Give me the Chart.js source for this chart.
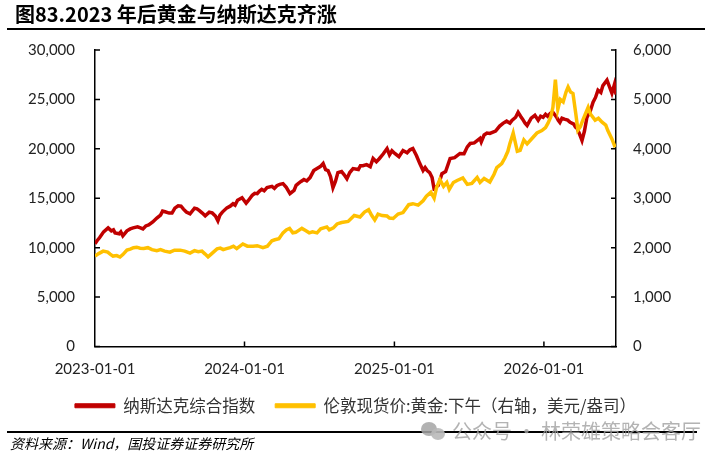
<!DOCTYPE html>
<html>
<head>
<meta charset="utf-8">
<script src="https://cdn.jsdelivr.net/npm/chart.js@4.4.1/dist/chart.umd.min.js"></script>
<style>
  body { margin: 0; background: #fff; }
  #wrap { position: relative; width: 711px; height: 459px; overflow: hidden; }
  #c { position: absolute; left: 0; top: 0; }
  .title { position: absolute; left: 15px; top: 0px; font: 700 20px "Noto Sans CJK SC", sans-serif; line-height: 28px; color: #000; white-space: nowrap; }
  .rule { position: absolute; background: #000; }
  .source { position: absolute; left: 10px; top: 433px; font: italic 14px "Noto Sans CJK SC", sans-serif; line-height: 20px; color: #000; white-space: nowrap; }
  .mark { position: absolute; left: 452px; top: 417px; font: 20px "Noto Sans CJK SC", sans-serif; line-height: 28px; color: rgba(160,160,160,0.8); white-space: nowrap; }
  .bub { position: absolute; border-radius: 50%; background: rgba(165,165,165,0.85); }
</style>
</head>
<body>
<div id="wrap">
  <canvas id="c" width="711" height="459"></canvas>
  <div class="title">图83.2023 年后黄金与纳斯达克齐涨</div>
  <div class="rule" style="left:7px; top:28px; width:698px; height:2px;"></div>
  <div class="rule" style="left:7px; top:431px; width:690px; height:1.5px;"></div>
  <div class="source">资料来源：Wind，国投证券证券研究所</div>
  <div class="bub" style="left:421px; top:422px; width:16px; height:14px;"></div>
  <div class="bub" style="left:431px; top:428px; width:14px; height:12px; background:rgba(185,185,185,0.9);"></div>
  <div class="mark">公众号 · 林荣雄策略会客厅</div>
</div>
<script>
// x-axis tick labels
const xLabels = ['2023-01-01', '2024-01-01', '2025-01-01', '2026-01-01'];

// 纳斯达克综合指数 (left axis)
const nasdaqDates = [
  '2023-01-01','2023-01-06','2023-01-12','2023-01-22','2023-02-02','2023-02-10','2023-02-15','2023-02-19',
  '2023-03-01','2023-03-05','2023-03-10','2023-03-20','2023-03-28','2023-04-04','2023-04-15','2023-04-22',
  '2023-04-28','2023-05-05','2023-05-12','2023-05-22','2023-06-01','2023-06-10','2023-06-15','2023-06-21',
  '2023-07-01','2023-07-08','2023-07-15','2023-07-23','2023-07-30','2023-08-05','2023-08-12','2023-08-21',
  '2023-09-01','2023-09-07','2023-09-13','2023-09-20','2023-09-27','2023-10-07','2023-10-14','2023-10-22',
  '2023-10-28','2023-11-02','2023-11-08','2023-11-19','2023-11-27','2023-12-04','2023-12-09','2023-12-15',
  '2023-12-26','2024-01-05','2024-01-10','2024-01-20','2024-01-26','2024-02-01','2024-02-06','2024-02-12',
  '2024-02-18','2024-02-25','2024-03-08','2024-03-14','2024-03-20','2024-03-27','2024-04-04','2024-04-12',
  '2024-04-21','2024-05-01','2024-05-06','2024-05-11','2024-05-18','2024-05-25','2024-06-01','2024-06-09',
  '2024-06-18','2024-06-26','2024-07-04','2024-07-11','2024-07-17','2024-07-23','2024-07-29','2024-08-04',
  '2024-08-10','2024-08-16','2024-08-25','2024-08-31','2024-09-07','2024-09-14','2024-09-22','2024-10-05',
  '2024-10-10','2024-10-16','2024-10-25','2024-11-03','2024-11-10','2024-11-18','2024-11-25','2024-12-05',
  '2024-12-14','2024-12-20','2024-12-26','2025-01-02','2025-01-12','2025-01-22','2025-02-01','2025-02-08',
  '2025-02-15','2025-02-24','2025-03-04','2025-03-12','2025-03-17','2025-03-22','2025-03-28','2025-04-03',
  '2025-04-08','2025-04-10','2025-04-18','2025-04-27','2025-05-06','2025-05-17','2025-05-28','2025-06-10',
  '2025-06-20','2025-06-28','2025-07-05','2025-07-15','2025-07-29','2025-08-01','2025-08-08','2025-08-15',
  '2025-08-22','2025-09-05','2025-09-15','2025-09-23','2025-10-02','2025-10-10','2025-10-15','2025-10-24',
  '2025-10-30','2025-11-05','2025-11-10','2025-11-16','2025-11-21','2025-12-01','2025-12-10','2025-12-18',
  '2025-12-24','2025-12-30','2026-01-05','2026-01-10','2026-01-17','2026-01-23','2026-02-01','2026-02-05',
  '2026-02-09','2026-02-14','2026-02-20','2026-02-28','2026-03-06','2026-03-15','2026-03-19','2026-03-23',
  '2026-03-29','2026-04-04','2026-04-10','2026-04-16','2026-04-24','2026-05-01','2026-05-07','2026-05-13',
  '2026-05-20','2026-05-25','2026-06-04','2026-06-10','2026-06-16','2026-06-22','2026-06-26'
];
const nasdaqValues = [
  10400,10700,11000,11600,12000,11700,11800,11490,
  11400,11600,11190,11700,11900,12000,12100,12000,
  11900,12200,12300,12600,13000,13300,13700,13630,
  13500,13500,14000,14240,14200,13900,13600,13420,
  14000,13930,13750,13500,13220,13600,13520,13200,
  12710,13300,13600,14030,14200,14440,14300,14800,
  15050,14500,14750,15300,15500,15460,15700,15900,
  15750,16070,16200,16000,16270,16400,16480,16100,
  15460,15800,16300,16480,16700,16900,16750,17090,
  17800,18000,18200,18510,17900,17800,17200,16070,
  16700,17590,17700,17400,16980,17600,18000,17900,
  18300,18300,18400,18200,19020,18700,19000,19500,
  20030,19400,19800,19530,19200,19830,19600,19900,
  20030,19300,18510,17800,18100,17800,17600,17090,
  15900,16070,16300,17490,17700,19020,19100,19530,
  19500,20200,20540,20600,21050,20700,21400,21600,
  21560,21800,22300,22580,22800,22600,22880,23200,
  23700,23300,23000,22600,22370,23100,23390,22900,
  23300,23190,23500,23300,23600,23700,23200,22900,
  22680,23100,23000,22900,22680,22500,22200,22070,
  21500,20850,21800,23190,23800,24710,25200,25930,
  25700,26400,26950,26300,25630,26500,25500
];

// 伦敦现货价:黄金:下午 (right axis)
const goldDates = [
  '2023-01-01','2023-01-10','2023-01-21','2023-02-01','2023-02-07','2023-02-14','2023-02-23','2023-03-03',
  '2023-03-10','2023-03-20','2023-03-28','2023-04-05','2023-04-13','2023-04-21','2023-04-30','2023-05-10',
  '2023-05-20','2023-06-01','2023-06-10','2023-06-20','2023-07-03','2023-07-14','2023-07-28','2023-08-08',
  '2023-08-21','2023-09-01','2023-09-10','2023-09-19','2023-09-27','2023-10-04','2023-10-13','2023-10-26',
  '2023-11-03','2023-11-10','2023-11-18','2023-11-27','2023-12-05','2023-12-13','2023-12-28','2024-01-08',
  '2024-01-22','2024-02-01','2024-02-15','2024-02-26','2024-03-08','2024-03-15','2024-03-25','2024-04-04',
  '2024-04-12','2024-04-20','2024-04-28','2024-05-05','2024-05-20','2024-05-28','2024-06-07','2024-06-15',
  '2024-06-26','2024-07-05','2024-07-20','2024-07-26','2024-08-05','2024-08-14','2024-08-25','2024-09-10',
  '2024-09-25','2024-10-09','2024-10-20','2024-10-30','2024-11-06','2024-11-14','2024-11-22','2024-12-02',
  '2024-12-14','2024-12-20','2024-12-29','2025-01-10','2025-01-22','2025-02-05','2025-02-15','2025-02-28',
  '2025-03-12','2025-03-20','2025-03-31','2025-04-08','2025-04-14','2025-04-22','2025-05-01','2025-05-09',
  '2025-05-15','2025-05-25','2025-06-03','2025-06-17','2025-06-28','2025-07-09','2025-07-22','2025-07-29',
  '2025-08-08','2025-08-22','2025-09-01','2025-09-08','2025-09-20','2025-09-28','2025-10-05','2025-10-10',
  '2025-10-18','2025-10-28','2025-11-04','2025-11-13','2025-11-21','2025-12-05','2025-12-15','2025-12-27',
  '2026-01-05','2026-01-11','2026-01-18','2026-01-23','2026-01-29','2026-02-04','2026-02-10','2026-02-17',
  '2026-02-24','2026-03-01','2026-03-07','2026-03-13','2026-03-20','2026-03-25','2026-03-31','2026-04-06',
  '2026-04-12','2026-04-19','2026-04-25','2026-05-06','2026-05-14','2026-05-23','2026-06-01','2026-06-06',
  '2026-06-16','2026-06-24'
];
const goldValues = [
  1830,1880,1930,1910,1870,1830,1840,1810,
  1860,1950,1970,2000,2010,1990,1985,2000,
  1960,1940,1960,1930,1910,1950,1950,1930,
  1890,1940,1920,1930,1870,1815,1880,1975,
  1990,1960,1980,2000,2030,1980,2075,2030,
  2030,2040,2000,2030,2140,2160,2180,2300,
  2360,2390,2300,2310,2390,2350,2300,2320,
  2300,2380,2420,2360,2400,2480,2510,2530,
  2650,2620,2720,2770,2660,2560,2680,2650,
  2640,2600,2590,2680,2710,2870,2890,2860,
  2950,3040,3120,3000,3220,3380,3240,3320,
  3180,3320,3360,3410,3280,3300,3420,3320,
  3400,3330,3480,3620,3700,3820,3950,4110,
  4320,3950,3970,4180,4100,4230,4320,4370,
  4430,4520,4650,4840,5400,4800,5000,4950,
  5150,5250,5150,5120,4700,4380,4450,4580,
  4700,4840,4700,4580,4620,4540,4480,4370,
  4200,4030
];

const start = Date.parse('2023-01-01');
const dayOf = d => Math.round((Date.parse(d) - start) / 86400000);
const xTicks = xLabels.map(dayOf);

// short tick marks drawn on the inner side of each axis
const innerTicks = {
  id: 'innerTicks',
  afterDraw(chart) {
    const ctx = chart.ctx, a = chart.chartArea;
    const yl = chart.scales.y, yr = chart.scales.y1, x = chart.scales.x;
    ctx.save();
    ctx.strokeStyle = '#000';
    ctx.lineWidth = 1.5;
    ctx.beginPath();
    yl.ticks.forEach(t => { const p = yl.getPixelForValue(t.value); ctx.moveTo(a.left, p); ctx.lineTo(a.left + 5, p); });
    yr.ticks.forEach(t => { const p = yr.getPixelForValue(t.value); ctx.moveTo(a.right, p); ctx.lineTo(a.right - 5, p); });
    x.ticks.forEach(t => { if (t.value > 0) { const p = x.getPixelForValue(t.value); ctx.moveTo(p, a.bottom); ctx.lineTo(p, a.bottom - 5); } });
    ctx.stroke();
    ctx.restore();
  }
};

const tickFont = { family: 'Lato', size: 15 };

new Chart(document.getElementById('c'), {
  type: 'line',
  data: {
    datasets: [{
      label: '纳斯达克综合指数',
      data: nasdaqDates.map((d, i) => ({ x: dayOf(d), y: nasdaqValues[i] })),
      borderColor: '#C00000',
      backgroundColor: '#C00000',
      borderWidth: 3.5,
      pointRadius: 0,
      yAxisID: 'y',
      order: 1
    }, {
      label: '伦敦现货价:黄金:下午（右轴，美元/盎司）',
      data: goldDates.map((d, i) => ({ x: dayOf(d), y: goldValues[i] })),
      borderColor: '#FFC000',
      backgroundColor: '#FFC000',
      borderWidth: 3.5,
      pointRadius: 0,
      yAxisID: 'y1',
      order: 0
    }]
  },
  options: {
    responsive: false,
    animation: false,
    layout: { padding: { top: 50, left: 0, right: 0, bottom: 35 } },
    plugins: {
      tooltip: { enabled: false },
      legend: {
        position: 'bottom',
        labels: {
          boxWidth: 40,
          boxHeight: 4,
          padding: 20,
          color: '#333',
          font: { family: '"Noto Sans CJK SC"', size: 16.5 },
          sort: (a, b) => a.datasetIndex - b.datasetIndex,
          generateLabels(chart) {
            return Chart.defaults.plugins.legend.labels.generateLabels(chart).map(l => {
              l.lineWidth = 1;
              l.strokeStyle = l.fillStyle;
              return l;
            });
          }
        }
      }
    },
    scales: {
      x: {
        type: 'linear',
        min: 0,
        max: 1272,
        grid: { display: false, drawTicks: false },
        border: { display: true, color: '#000', width: 1.5 },
        afterBuildTicks: s => { s.ticks = xTicks.map(v => ({ value: v })); },
        afterFit: s => { s.height = 31; },
        ticks: {
          padding: 14,
          color: '#222',
          font: tickFont,
          maxRotation: 0,
          autoSkip: false,
          callback: v => xLabels[xTicks.indexOf(v)] || ''
        }
      },
      y: {
        position: 'left',
        min: 0,
        max: 30000,
        grid: { display: false, drawTicks: false },
        border: { display: true, color: '#000', width: 1.5 },
        afterFit: s => { s.width = 95; },
        ticks: {
          stepSize: 5000,
          padding: 20,
          color: '#222',
          font: tickFont,
          callback: v => v.toLocaleString('en-US')
        }
      },
      y1: {
        position: 'right',
        min: 0,
        max: 6000,
        grid: { display: false, drawTicks: false },
        border: { display: true, color: '#000', width: 1.5 },
        afterFit: s => { s.width = 95; },
        ticks: {
          stepSize: 1000,
          padding: 17,
          color: '#222',
          font: tickFont,
          callback: v => v.toLocaleString('en-US')
        }
      }
    }
  },
  plugins: [innerTicks]
});
</script>
</body>
</html>
